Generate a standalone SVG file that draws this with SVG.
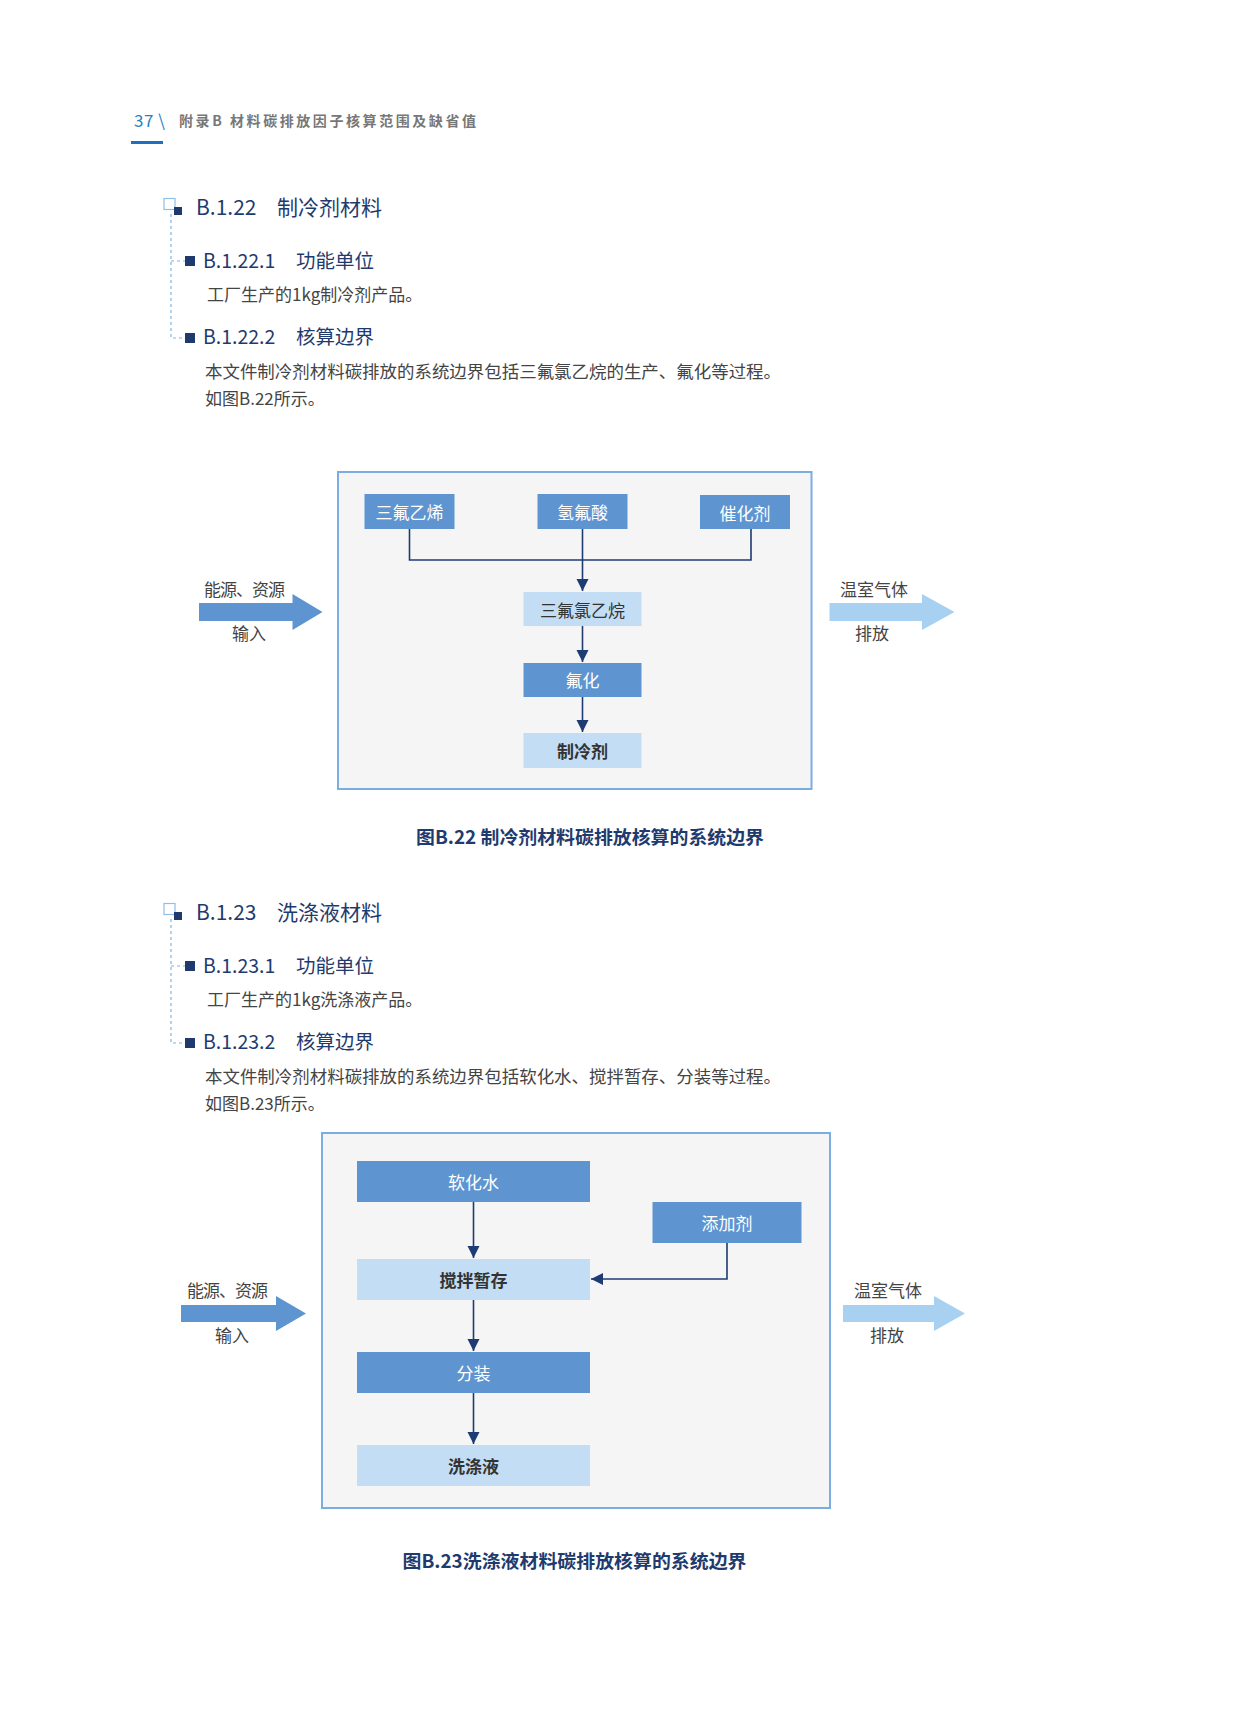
<svg xmlns="http://www.w3.org/2000/svg" width="1258" height="1719" viewBox="0 0 1258 1719">
<style>
text{font-family:"Noto Sans CJK SC","Noto Sans",sans-serif}
.hd{fill:#1f3b6e;font-size:21px}
.sh{fill:#1f3b6e;font-size:19.5px}
.bd{fill:#444;font-size:17px}
.cap{fill:#1f3b6e;font-size:18.5px;font-weight:bold}
.frame{fill:#f5f5f5;stroke:#7aaee0;stroke-width:2}
.mid{fill:#5e95d0}
.lt{fill:#c2ddf4}
.wl{fill:#fff;font-size:17px;text-anchor:middle;dominant-baseline:central}
.dl{fill:#333;font-size:17px;text-anchor:middle;dominant-baseline:central}
.al{fill:#444;font-size:17px}
.conn{fill:none;stroke:#1f3b73;stroke-width:1.6}
.dash{fill:none;stroke:#7fb5e0;stroke-width:1.2;stroke-dasharray:3 3}
.sq{fill:#1f3b6e}
.osq{fill:none;stroke:#8fbfe6;stroke-width:1.2}
</style>
<defs>
<marker id="ah" markerUnits="userSpaceOnUse" markerWidth="12" markerHeight="14" refX="12" refY="6" orient="auto">
<path d="M0,0 L12,6 L0,12 Z" fill="#1f3b73"/>
</marker>
</defs>
<rect width="1258" height="1719" fill="#fff"/>

<g id="header">
<text x="134" y="127" fill="#2a7fc4" font-size="17" textLength="31">37 \</text>
<text x="179" y="126" fill="#777" font-size="14" font-weight="bold" textLength="297" lengthAdjust="spacing">附录B  材料碳排放因子核算范围及缺省值</text>
<rect x="131" y="141" width="32" height="3" fill="#1e6fc0"/>
</g>

<g id="section1">
<rect class="osq" x="164" y="198.5" width="11" height="11"/>
<rect class="sq" x="174" y="207" width="8" height="8"/>
<path class="dash" d="M171,214 V338 H185 M171,261 H185"/>
<text class="hd" x="196" y="215">B.1.22<tspan x="277">制冷剂材料</tspan></text>
<rect class="sq" x="185" y="256" width="10" height="10"/>
<text class="sh" x="203" y="268">B.1.22.1<tspan x="296">功能单位</tspan></text>
<text class="bd" x="207" y="301" font-size="16.5">工厂生产的1kg制冷剂产品。</text>
<rect class="sq" x="185" y="333" width="10" height="10"/>
<text class="sh" x="203" y="344">B.1.22.2<tspan x="296">核算边界</tspan></text>
<text class="bd" x="205" y="378" textLength="576" lengthAdjust="spacingAndGlyphs">本文件制冷剂材料碳排放的系统边界包括三氟氯乙烷的生产、氟化等过程。</text>
<text class="bd" x="205" y="405">如图B.22所示。</text>
</g>

<g id="diagram1">
<rect id="frame1" class="frame" x="338" y="472" width="473.5" height="317"/>
<g id="n-sanfuyixi"><rect class="mid" x="364.5" y="494" width="90" height="35"/><text class="wl" x="409.5" y="511">三氟乙烯</text></g>
<g id="n-qingfusuan"><rect class="mid" x="537.5" y="494" width="90" height="35"/><text class="wl" x="582.5" y="511">氢氟酸</text></g>
<g id="n-cuihuaji"><rect class="mid" x="700" y="495" width="90" height="34"/><text class="wl" x="745" y="512">催化剂</text></g>
<g id="n-sanfulvyiwan"><rect class="lt" x="523.5" y="592" width="118" height="34"/><text class="dl" x="582.5" y="609" fill="#555">三氟氯乙烷</text></g>
<g id="n-fuhua"><rect class="mid" x="523.5" y="663" width="118" height="34"/><text class="wl" x="582.5" y="679">氟化</text></g>
<g id="n-zhilengji"><rect class="lt" x="523.5" y="733" width="118" height="35"/><text class="dl" x="582.5" y="750" font-weight="bold">制冷剂</text></g>
<g id="in1">
<polygon points="199,603 292.5,603 292.5,594 322.5,612 292.5,630 292.5,621 199,621" fill="#5e95d0"/>
<text class="al" x="204" y="596" textLength="81">能源、资源</text>
<text class="al" x="249" y="640" text-anchor="middle">输入</text>
</g>
<g id="out1">
<polygon points="829.5,603 922,603 922,594 954.5,612 922,630 922,621 829.5,621" fill="#a8d0f0"/>
<text class="al" x="874" y="596" text-anchor="middle">温室气体</text>
<text class="al" x="872" y="640" text-anchor="middle">排放</text>
</g>
</g>

<g id="connectors1">
<path class="conn" d="M409.5,529 V560 H751 V529"/>
<path class="conn" d="M582.5,529 V591" marker-end="url(#ah)"/>
<path class="conn" d="M582.5,626 V662" marker-end="url(#ah)"/>
<path class="conn" d="M582.5,697 V732" marker-end="url(#ah)"/>
</g>

<text id="caption1" class="cap" x="416" y="844" textLength="348" lengthAdjust="spacingAndGlyphs">图B.22 制冷剂材料碳排放核算的系统边界</text>

<g id="section2">
<rect class="osq" x="164" y="903.5" width="11" height="11"/>
<rect class="sq" x="174" y="912" width="8" height="8"/>
<path class="dash" d="M171,919 V1043 H185 M171,966 H185"/>
<text class="hd" x="196" y="920">B.1.23<tspan x="277">洗涤液材料</tspan></text>
<rect class="sq" x="185" y="961" width="10" height="10"/>
<text class="sh" x="203" y="973">B.1.23.1<tspan x="296">功能单位</tspan></text>
<text class="bd" x="207" y="1006" font-size="16.5">工厂生产的1kg洗涤液产品。</text>
<rect class="sq" x="185" y="1038" width="10" height="10"/>
<text class="sh" x="203" y="1049">B.1.23.2<tspan x="296">核算边界</tspan></text>
<text class="bd" x="205" y="1083" textLength="576" lengthAdjust="spacingAndGlyphs">本文件制冷剂材料碳排放的系统边界包括软化水、搅拌暂存、分装等过程。</text>
<text class="bd" x="205" y="1110">如图B.23所示。</text>
</g>

<g id="diagram2">
<rect id="frame2" class="frame" x="322" y="1133" width="508" height="375"/>
<g id="n-ruanhuashui"><rect class="mid" x="357" y="1161" width="233" height="41"/><text class="wl" x="473.5" y="1181.5">软化水</text></g>
<g id="n-tianjiaji"><rect class="mid" x="652.5" y="1202" width="149" height="41"/><text class="wl" x="727" y="1222.5">添加剂</text></g>
<g id="n-jiaoban"><rect class="lt" x="357" y="1259" width="233" height="41"/><text class="dl" x="473.5" y="1279.5" font-weight="bold">搅拌暂存</text></g>
<g id="n-fenzhuang"><rect class="mid" x="357" y="1352" width="233" height="41"/><text class="wl" x="473.5" y="1372.5">分装</text></g>
<g id="n-xidiye"><rect class="lt" x="357" y="1445" width="233" height="41"/><text class="dl" x="473.5" y="1465.5" font-weight="bold">洗涤液</text></g>
<g id="in2">
<polygon points="181,1305 276,1305 276,1296 306,1313.5 276,1331 276,1322 181,1322" fill="#5e95d0"/>
<text class="al" x="187" y="1297" textLength="81">能源、资源</text>
<text class="al" x="232" y="1342" text-anchor="middle">输入</text>
</g>
<g id="out2">
<polygon points="843,1305 934,1305 934,1296 965,1313.5 934,1331 934,1322 843,1322" fill="#a8d0f0"/>
<text class="al" x="888" y="1297" text-anchor="middle">温室气体</text>
<text class="al" x="887" y="1342" text-anchor="middle">排放</text>
</g>
</g>

<g id="connectors2">
<path class="conn" d="M473.5,1202 V1258" marker-end="url(#ah)"/>
<path class="conn" d="M727,1243 V1279 H591" stroke-width="2" marker-end="url(#ah)"/>
<path class="conn" d="M473.5,1300 V1351" marker-end="url(#ah)"/>
<path class="conn" d="M473.5,1393 V1444" marker-end="url(#ah)"/>
</g>

<text id="caption2" class="cap" x="402.5" y="1568" textLength="344" lengthAdjust="spacingAndGlyphs">图B.23洗涤液材料碳排放核算的系统边界</text>
</svg>
